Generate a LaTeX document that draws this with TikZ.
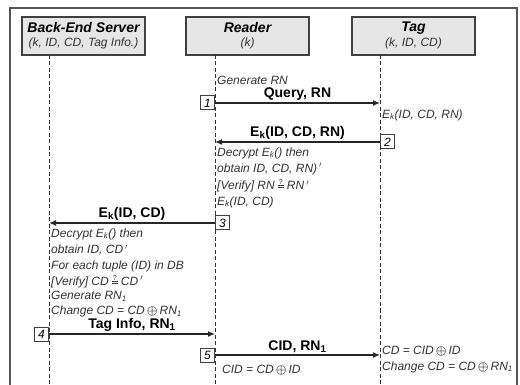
\documentclass[tikz,border=0pt]{standalone}
\usepackage{fontspec}
\setmainfont{Liberation Sans}
\usetikzlibrary{arrows.meta}
\definecolor{framegray}{HTML}{555555}
\definecolor{boxfill}{HTML}{E6E6E6}
\definecolor{boxline}{HTML}{404040}
\definecolor{notegray}{HTML}{333333}
\newcommand\lsub[1]{\textsubscript{#1}}
% "?" stacked over "=" (questioned equality), kept within the line height
\newcommand\qeq{\raisebox{2.2pt}{\vbox{\offinterlineskip\halign{\hfil##\hfil\cr
  {\fontsize{7}{7}\selectfont\upshape ?}\cr\noalign{\kern0.6pt}
  \rule{5.5pt}{0.6pt}\cr\noalign{\kern1.3pt}\rule{5.5pt}{0.6pt}\cr}}}}
\newcommand\xor{\,{\boldmath$\oplus$}\,}
\newcommand\prm{\,$'$}

\begin{document}
\begin{tikzpicture}[x=1pt,y=-1pt,
  party/.style={draw=boxline, line width=1.3pt, fill=boxfill, minimum width=123pt,
    minimum height=38pt, inner sep=0pt, align=center},
  partyname/.style={font=\fontsize{14}{16}\selectfont\bfseries\itshape},
  partykeys/.style={font=\fontsize{12}{14}\selectfont\itshape, text=notegray},
  lifeline/.style={draw=notegray, line width=0.9pt, dash pattern=on 4pt off 2.5pt},
  msg/.style={draw=black!85, line width=1.3pt, -{Latex[length=7pt,width=6pt]}},
  msglabel/.style={font=\fontsize{14}{16}\selectfont\bfseries, above=1pt, inner sep=1pt},
  note/.style={font=\fontsize{12}{14}\selectfont\itshape, text=notegray, anchor=west, inner sep=0pt},
  stepnum/.style={draw=boxline, fill=white, line width=1pt, minimum size=14pt,
    inner sep=0pt, font=\fontsize{12}{14}\selectfont\itshape}
]
\clip (0,0) rectangle (520,385);
\fill[white] (0,0) rectangle (520,385);

% outer frame (open at the bottom)
\draw[framegray, line width=1.5pt] (10,400) -- (10,8) -- (517,8) -- (517,400);

% participants
\node[party] (srv) at (83.5,36) {};
\node[partyname] at (83.5,28) {Back-End Server};
\node[partykeys] at (83.5,43) {(k, ID, CD, Tag Info.)};
\node[party] (rdr) at (247.5,36) {};
\node[partyname] at (247.5,28) {Reader};
\node[partykeys] at (247.5,43) {(k)};
\node[party] (tag) at (413.5,36) {};
\node[partyname] at (413.5,28) {Tag};
\node[partykeys] at (413.5,43) {(k, ID, CD)};

% lifelines
\coordinate (sTop) at (49,55);
\coordinate (rTop) at (215,55);
\coordinate (tTop) at (380,55);
\draw[lifeline] (sTop) -- ++(0,340);
\draw[lifeline] (rTop) -- ++(0,340);
\draw[lifeline] (tTop) -- ++(0,340);

% step 1
\node[note] at (217,80) {Generate RN};
\coordinate (m1a) at (215,103);
\coordinate (m1b) at (380,103);
\draw[msg] (m1a) -- (m1b) node[midway, msglabel] {Query, RN};
\node[stepnum, anchor=east] (n1) at (m1a) {1};
\node[note] at (382,115) {E\lsub{k}(ID, CD, RN)};

% step 2
\coordinate (m2a) at (380,142);
\coordinate (m2b) at (215,142);
\draw[msg] (m2a) -- (m2b) node[midway, msglabel] {E\lsub{k}(ID, CD, RN)};
\node[stepnum, anchor=west] (n2) at (m2a) {2};
\node[note] at (217,153) {Decrypt E\lsub{k}() then};
\node[note] at (217,169) {obtain ID, CD, RN)\prm};
\node[note] at (217,186) {[Verify] RN \qeq{} RN\prm};
\node[note] at (217,202) {E\lsub{k}(ID, CD)};

% step 3
\coordinate (m3a) at (215,223);
\coordinate (m3b) at (49,223);
\draw[msg] (m3a) -- (m3b) node[midway, msglabel] {E\lsub{k}(ID, CD)};
\node[stepnum, anchor=west] (n3) at (m3a) {3};
\node[note] at (51,234) {Decrypt E\lsub{k}() then};
\node[note] at (51,250) {obtain ID, CD\prm};
\node[note] at (51,266) {For each tuple (ID) in DB};
\node[note] at (51,281.5) {[Verify] CD \qeq{} CD\prm};
\node[note] at (51,296.5) {Generate RN\lsub{1}};
\node[note] at (51,311.5) {Change CD = CD\xor RN\lsub{1}};

% step 4
\coordinate (m4a) at (49,334);
\coordinate (m4b) at (215,334);
\draw[msg] (m4a) -- (m4b) node[midway, msglabel] {Tag Info, RN\lsub{1}};
\node[stepnum, anchor=east] (n4) at (m4a) {4};

% step 5
\coordinate (m5a) at (215,355);
\coordinate (m5b) at (380,355);
\draw[msg] (m5a) -- (m5b) node[midway, msglabel] {CID, RN\lsub{1}};
\node[stepnum, anchor=east] (n5) at (m5a) {5};
\node[note] at (222,370) {CID = CD\xor ID};
\node[note] at (382,351) {CD = CID\xor ID};
\node[note] at (382,367) {Change CD = CD\xor RN\lsub{1}};
\end{tikzpicture}
\end{document}
